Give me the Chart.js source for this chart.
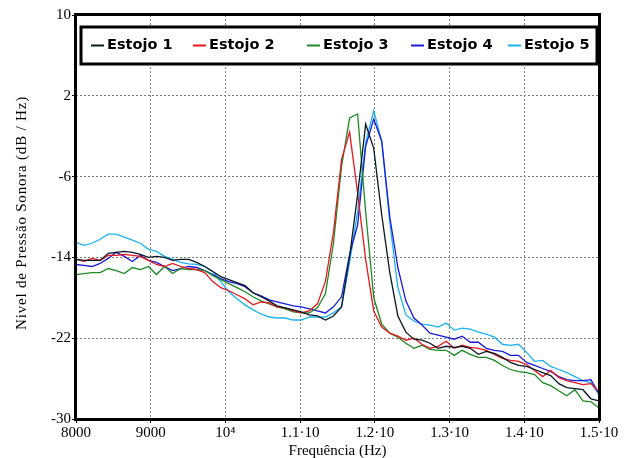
<!DOCTYPE html>
<html>
<head>
<meta charset="utf-8">
<script src="https://cdn.jsdelivr.net/npm/chart.js@4.4.1/dist/chart.umd.min.js"></script>
<style>
  body { margin: 0; background: #fff; }
</style>
</head>
<body>
<canvas id="spectrumChart" width="634" height="458"></canvas>
<script>
// frequency bins (Hz)
const frequencies = [
  8000, 8108, 8215, 8323, 8431, 8538, 8646, 8754, 8862, 8969,
  9077, 9185, 9292, 9400, 9508, 9615, 9723, 9831, 9938, 10046,
  10154, 10262, 10369, 10477, 10585, 10692, 10800, 10908, 11015, 11123,
  11231, 11338, 11446, 11554, 11662, 11769, 11877, 11985, 12092, 12200,
  12308, 12415, 12523, 12631, 12738, 12846, 12954, 13062, 13169, 13277,
  13385, 13492, 13600, 13708, 13815, 13923, 14031, 14138, 14246, 14354,
  14462, 14569, 14677, 14785, 14892, 15000
];

const estojo1 = [
  -14.2, -14.3, -14.3, -14.3, -13.6, -13.5, -13.4, -13.5, -13.7, -14.0,
  -13.9, -14.0, -14.3, -14.2, -14.2, -14.5, -14.9, -15.4, -15.9, -16.2,
  -16.5, -16.8, -17.5, -17.9, -18.3, -18.8, -19.0, -19.2, -19.4, -19.7,
  -19.8, -20.2, -19.8, -18.9, -13.9, -7.8, -0.8, -3.2, -9.8, -15.5,
  -19.8, -21.4, -22.1, -22.2, -22.5, -23.0, -22.8, -22.9, -22.8, -23.0,
  -23.6, -23.3, -23.5, -23.9, -24.4, -24.7, -24.8, -25.1, -25.4, -25.7,
  -26.5, -26.9, -27.0, -27.1, -28.0, -28.2
];

const estojo2 = [
  -14.2, -14.4, -14.1, -14.3, -13.8, -13.8, -13.7, -13.8, -13.9, -14.3,
  -14.7, -14.9, -14.6, -14.9, -15.1, -15.2, -15.5, -16.4, -17.0, -17.3,
  -17.7, -18.1, -18.7, -18.4, -18.5, -18.9, -19.0, -19.3, -19.5, -19.3,
  -18.6, -16.4, -11.5, -4.3, -1.6, -7.6, -14.2, -19.3, -20.9, -21.5,
  -21.8, -22.2, -22.0, -22.6, -23.0, -22.8, -22.3, -23.0, -22.7, -22.9,
  -23.0, -23.2, -23.6, -24.0, -24.2, -24.3, -24.6, -25.2, -25.8, -25.2,
  -25.9, -26.2, -26.4, -26.6, -26.5, -27.3
];

const estojo3 = [
  -15.7, -15.6, -15.5, -15.5, -15.1, -15.3, -15.6, -15.0, -15.2, -14.9,
  -15.7, -14.9, -15.6, -15.1, -15.2, -15.2, -15.3, -15.8, -16.2, -16.6,
  -17.0, -17.4, -17.9, -18.3, -18.6, -18.9, -19.1, -19.4, -19.5, -19.5,
  -19.0, -17.6, -12.6, -5.0, -0.2, 0.2, -9.5, -18.0, -20.6, -21.5,
  -21.9, -22.5, -23.0, -22.7, -23.1, -23.2, -23.2, -23.7, -23.2, -23.6,
  -23.9, -23.9, -24.2, -24.7, -25.1, -25.3, -25.4, -25.6, -26.4, -26.7,
  -27.2, -27.7, -27.1, -28.2, -28.3, -28.9
];

const estojo4 = [
  -14.7, -14.8, -14.9, -14.6, -14.1, -13.5, -13.9, -14.4, -13.8, -14.3,
  -14.5, -14.9, -15.3, -15.1, -14.9, -15.0, -15.3, -15.7, -16.1, -16.4,
  -16.6, -16.9, -17.5, -17.8, -18.2, -18.4, -18.6, -18.8, -18.9, -19.1,
  -19.3, -19.5, -18.9, -17.9, -13.7, -10.8, -3.0, -0.3, -2.5, -10.0,
  -15.0, -18.3, -20.0, -20.7, -21.5, -21.7, -21.9, -22.1, -21.8, -22.4,
  -22.4, -23.0, -23.2, -23.3, -23.7, -23.7, -24.4, -24.7, -25.0, -25.3,
  -25.8, -26.1, -26.2, -26.2, -26.1, -27.5
];

const estojo5 = [
  -12.5, -12.8, -12.6, -12.2, -11.7, -11.7, -12.0, -12.3, -12.6, -13.2,
  -13.4, -13.9, -14.2, -14.5, -14.65, -14.7, -14.9, -15.4, -16.4, -17.4,
  -18.1, -18.7, -19.2, -19.6, -19.9, -20.0, -20.0, -20.2, -20.2, -19.9,
  -19.9, -19.9, -19.5, -18.9, -14.5, -9.5, -2.6, 0.5, -2.5, -10.5,
  -17.0, -19.7, -20.3, -20.6, -20.7, -20.9, -20.5, -21.2, -21.0, -21.1,
  -21.4, -21.6, -21.9, -22.6, -22.7, -22.6, -23.4, -24.3, -24.2, -24.8,
  -25.1, -25.4, -25.8, -26.2, -26.4, -27.6
];

const seriesNames = ["Estojo 1", "Estojo 2", "Estojo 3", "Estojo 4", "Estojo 5"];
const seriesColors = ["#0a1824", "#e8161e", "#1c8a22", "#1a1ad8", "#1ab2f2"];
const seriesValues = [estojo1, estojo2, estojo3, estojo4, estojo5];

const xTickValues = [8000, 9000, 10000, 11000, 12000, 13000, 14000, 15000];
const xTickLabels = ["8000", "9000", "10\u2074", "1.1\u00b710", "1.2\u00b710", "1.3\u00b710", "1.4\u00b710", "1.5\u00b710"];
const yTitle = "Nivel de Pressão Sonora (dB / Hz)";

const serif = "'Liberation Serif', 'Times New Roman', serif";

// frame around the plot, y title and the boxed legend at the top
const frameLegend = {
  id: "frameLegend",
  afterDraw(chart) {
    const ctx = chart.ctx;
    const a = chart.chartArea;
    ctx.save();
    ctx.strokeStyle = "#000";
    ctx.lineWidth = 3;
    ctx.strokeRect(a.left - 0.5, a.top - 0.5, a.right - a.left + 1, a.bottom - a.top + 1);

    // y title (a bit spaced out like the original export)
    ctx.save();
    ctx.translate(22, 213);
    ctx.rotate(-Math.PI / 2);
    ctx.font = "15px " + serif;
    ctx.letterSpacing = "0.8px";
    ctx.fillStyle = "#000";
    ctx.textAlign = "center";
    ctx.textBaseline = "middle";
    ctx.fillText(yTitle, 0, 0);
    ctx.restore();

    // legend box
    ctx.fillStyle = "#fff";
    ctx.fillRect(81, 27, 516, 37);
    ctx.strokeRect(81, 27, 516, 37);

    const markerX = [91, 193, 307, 411, 508];
    ctx.font = "bold 14.5px 'DejaVu Sans', Verdana, sans-serif";
    ctx.textBaseline = "middle";
    chart.data.datasets.forEach((ds, i) => {
      ctx.strokeStyle = ds.borderColor;
      ctx.lineWidth = 2;
      ctx.beginPath();
      ctx.moveTo(markerX[i], 45.5);
      ctx.lineTo(markerX[i] + 13, 45.5);
      ctx.stroke();
      ctx.fillStyle = "#000";
      ctx.fillText(ds.label, markerX[i] + 16, 45);
    });
    ctx.restore();
  }
};

new Chart(document.getElementById("spectrumChart"), {
  type: "line",
  data: {
    datasets: seriesValues.map((vals, i) => ({
      label: seriesNames[i],
      data: vals.map((v, j) => ({ x: frequencies[j], y: v })),
      borderColor: seriesColors[i],
      backgroundColor: seriesColors[i],
      borderWidth: 1.3,
      pointRadius: 0,
      tension: 0,
      fill: false
    }))
  },
  options: {
    responsive: false,
    animation: false,
    layout: { padding: { left: 0, right: 35, top: 15, bottom: 0 } },
    plugins: {
      legend: { display: false },
      tooltip: { enabled: false }
    },
    scales: {
      x: {
        type: "linear",
        min: 8000,
        max: 15000,
        afterBuildTicks: (scale) => {
          scale.ticks = xTickValues.map(v => ({ value: v }));
        },
        afterFit: (scale) => { scale.height = 39; },
        ticks: {
          color: "#000",
          font: { family: serif, size: 15 },
          padding: 1,
          maxRotation: 0,
          autoSkip: false,
          callback: (value) => {
            const i = xTickValues.indexOf(value);
            return i >= 0 ? xTickLabels[i] : "";
          }
        },
        grid: { color: "#808080", lineWidth: 1, tickLength: 4, tickColor: "#000" },
        border: { display: false, dash: [2, 2] },
        title: {
          display: true,
          text: "Frequência (Hz)",
          color: "#000",
          font: { family: serif, size: 15 },
          padding: { top: 0, bottom: -2 }
        }
      },
      y: {
        min: -30,
        max: 10,
        afterFit: (scale) => { scale.width = 76; },
        ticks: {
          stepSize: 8,
          color: "#000",
          font: { family: serif, size: 15 },
          padding: 1
        },
        grid: { color: "#808080", lineWidth: 1, tickLength: 4, tickColor: "#000" },
        border: { display: false, dash: [2, 2] }
      }
    }
  },
  plugins: [frameLegend]
});
</script>
</body>
</html>
